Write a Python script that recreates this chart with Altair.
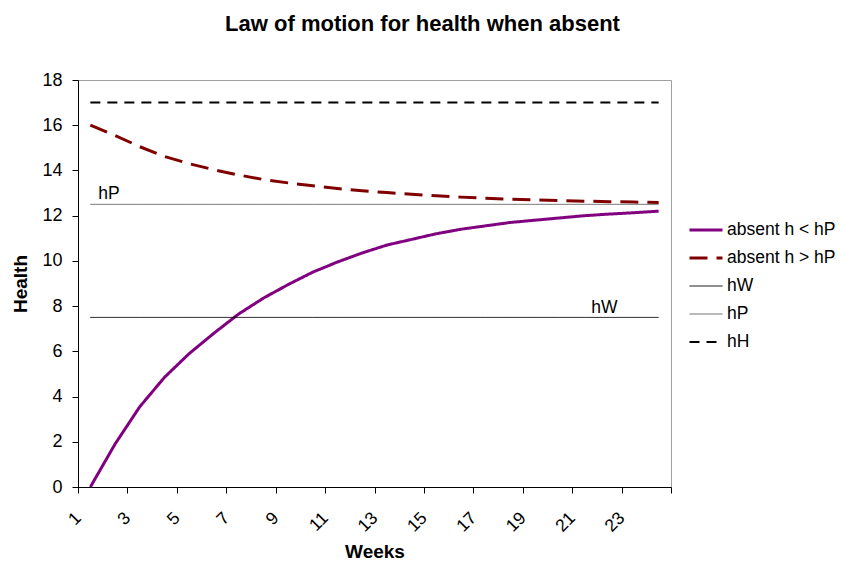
import altair as alt
import pandas as pd

weeks = list(range(1, 25))
absent_low = [0, 1.9, 3.55, 4.85, 5.9, 6.8, 7.65, 8.35, 8.95, 9.5, 9.95, 10.35,
              10.7, 10.95, 11.2, 11.4, 11.55, 11.7, 11.8, 11.9, 12.0, 12.07, 12.13, 12.2]
absent_high = [16.0, 15.55, 15.05, 14.62, 14.3, 14.03, 13.8, 13.6, 13.45, 13.32, 13.2, 13.1,
               13.02, 12.95, 12.88, 12.82, 12.77, 12.73, 12.7, 12.67, 12.64, 12.62, 12.6, 12.58]
hW = [7.5] * 24
hP = [12.5] * 24
hH = [17] * 24

series_names = ["absent h < hP", "absent h > hP", "hW", "hP", "hH"]
series_values = [absent_low, absent_high, hW, hP, hH]
series_colors = ["#800080", "#800000", "#000000", "#606060", "#000000"]
series_dash = [[1, 0], [18, 9], [1, 0], [1, 0], [10, 7]]
series_width = [3, 3, 1, 1, 2]

y_ticks = list(range(0, 19, 2))
x_tick_edges = [k - 0.5 for k in range(1, 26)]

label_names = ["hP", "hW"]
label_weeks = [1, 22]
label_values = [12.5, 7.5]

rows = []
for name, vals in zip(series_names, series_values):
    for w, v in zip(weeks, vals):
        rows.append({"series": name, "week": w, "value": v})
df = pd.DataFrame(rows)
labels_df = pd.DataFrame({"label": label_names, "week": label_weeks, "value": label_values})

FONT = "Liberation Sans"

leg = alt.Legend(
    title=None, orient="none", legendX=610, legendY=141.5,
    symbolType="stroke", symbolSize=1089, clipHeight=17, rowPadding=10,
    labelFont=FONT, labelFontSize=17.5, labelColor="#000000", labelOffset=3,
    padding=0,
)

x_enc = alt.X(
    "week:Q",
    scale=alt.Scale(domain=[0.5, 24.5], nice=False, zero=False),
    axis=alt.Axis(
        values=x_tick_edges,
        labelExpr="((datum.value + 0.5) % 2 == 1 && datum.value < 24) ? format(datum.value + 0.5, 'd') : ''",
        labelAngle=-45, labelAlign="right", labelBaseline="middle",
        labelOffset=0, labelPadding=22, tickSize=6, labelOverlap=False, labelFlush=False,
        title="Weeks", titleBaseline="alphabetic", titleY=70,
    ),
)
y_enc = alt.Y(
    "value:Q",
    scale=alt.Scale(domain=[0, 18], nice=False),
    axis=alt.Axis(
        values=y_ticks, tickSize=6, labelPadding=10, labelFlush=False, labelFontSize=18,
        title="Health", titleBaseline="middle", titleX=-58, titleY=203.5,
    ),
)

lines = alt.Chart(df).mark_line().encode(
    x=x_enc,
    y=y_enc,
    color=alt.Color("series:N", scale=alt.Scale(domain=series_names, range=series_colors), legend=leg),
    strokeDash=alt.StrokeDash("series:N", scale=alt.Scale(domain=series_names, range=series_dash), legend=leg),
    strokeWidth=alt.StrokeWidth("series:N", scale=alt.Scale(type="ordinal", domain=series_names, range=series_width), legend=leg),
)

text_hp = alt.Chart(labels_df).transform_filter(alt.datum.label == "hP").mark_text(
    align="left", baseline="alphabetic", dx=8, dy=-5, font=FONT, fontSize=17.5, color="#000000"
).encode(x="week:Q", y="value:Q", text="label:N")

text_hw = alt.Chart(labels_df).transform_filter(alt.datum.label == "hW").mark_text(
    align="left", baseline="alphabetic", dx=-18, dy=-4, font=FONT, fontSize=17.5, color="#000000"
).encode(x="week:Q", y="value:Q", text="label:N")

chart = alt.layer(lines, text_hp, text_hw).properties(
    width=593, height=407,
    background="#ffffff",
    autosize=alt.AutoSizeParams(type="none"),
    padding={"left": 70, "top": 72, "right": 166, "bottom": 73},
    title=alt.Title(
        "Law of motion for health when absent", font=FONT, fontSize=22, fontWeight="bold",
        color="#000000", anchor="middle", frame="group", dx=48, offset=18, baseline="alphabetic",
    ),
).configure_view(
    stroke="#a0a0a0", strokeWidth=1
).configure_axis(
    grid=False, domainColor="#000000", tickColor="#000000", domainWidth=1, tickWidth=1,
    labelFont=FONT, labelFontSize=17.5, labelColor="#000000",
    titleFont=FONT, titleFontSize=19, titleFontWeight="bold", titleColor="#000000",
)

chart.save("out.html", embed_options={"renderer": "svg", "actions": False})
